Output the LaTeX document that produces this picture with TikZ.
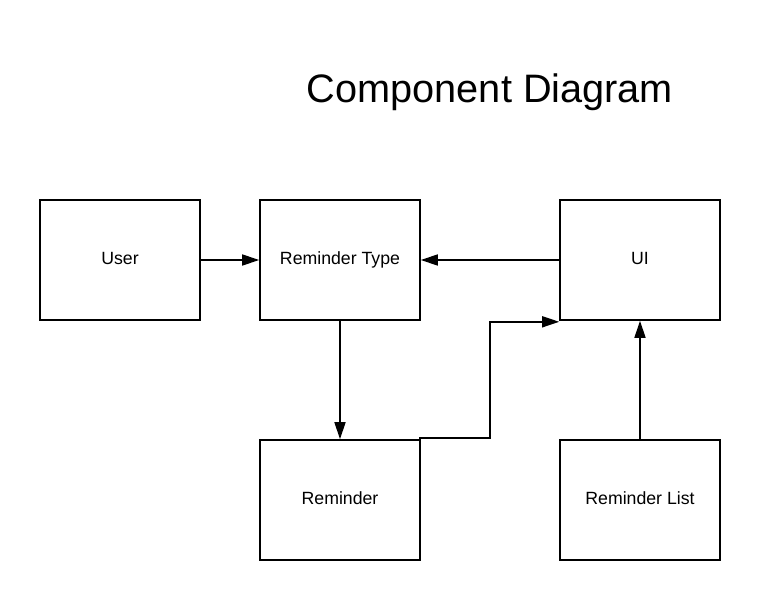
\documentclass[tikz,border=0pt]{standalone}
\usepackage{fontspec}
\setmainfont{Liberation Sans}
\usetikzlibrary{arrows.meta}
\begin{document}
\begin{tikzpicture}[x=1pt,y=-1pt,
  comp/.style={draw,line width=1.6pt,minimum width=160pt,minimum height=120pt,inner sep=0pt},
  lbl/.style={font=\fontsize{17.7}{20}\selectfont,text height=12.7pt,text depth=0pt,inner sep=0pt},
  ttl/.style={font=\fontsize{39.7}{44}\selectfont,text height=28.4pt,text depth=0pt,inner sep=0pt},
  conn/.style={line width=1.6pt,-{Triangle[length=17pt,width=11pt]}}]
\useasboundingbox (0,0) rectangle (780,600);
\node[ttl] (title) at (490,88.3) {Component Diagram};
\node[comp] (user) at (120,260) {};
\node[comp] (rtype) at (340,260) {};
\node[comp] (ui) at (640,260) {};
\node[comp] (rem) at (340,500) {};
\node[comp] (rlist) at (640,500) {};
\node[lbl] (userl) at (120,258.5) {User};
\node[lbl] (rtypel) at (340,258.5) {Reminder Type};
\node[lbl] (uil) at (640,258.5) {UI};
\node[lbl] (reml) at (340,498.5) {Reminder};
\node[lbl] (rlistl) at (640,498.5) {Reminder List};
\coordinate (bend) at (490,438);
\draw[conn] (user.east) -- (rtype.west);
\draw[conn] (ui.west) -- (rtype.east);
\draw[conn] (rtype.south) -- (rem.north);
\draw[conn] (419,438) -- (bend) |- ([yshift=-1pt]ui.south west);
\draw[conn] (rlist.north) -- (ui.south);
\end{tikzpicture}
\end{document}
